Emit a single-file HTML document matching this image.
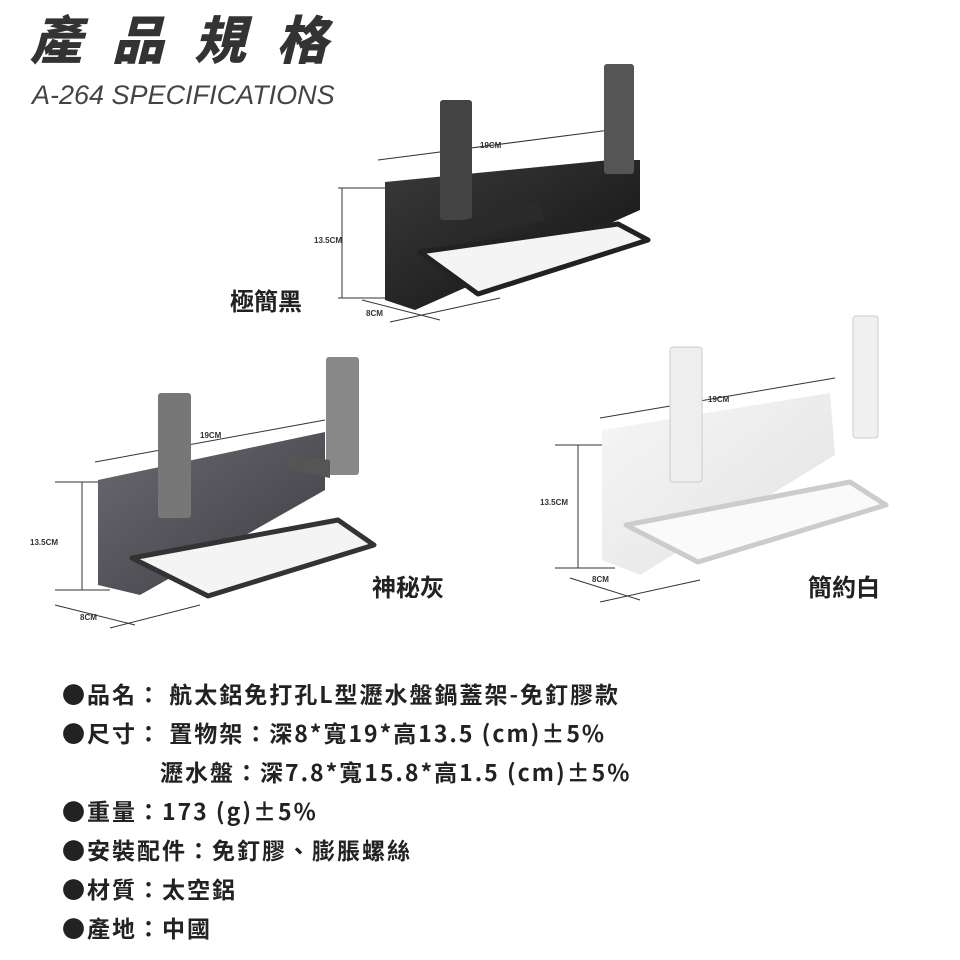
<!DOCTYPE html>
<html><head><meta charset="utf-8"><style>
body{margin:0;width:960px;height:960px;background:#fff;position:relative;overflow:hidden;font-family:"Liberation Sans","Noto Sans CJK TC",sans-serif;}
.t{position:absolute;white-space:nowrap;}
.spec{position:absolute;left:62px;font-size:23px;font-weight:bold;color:#222;white-space:nowrap;letter-spacing:2px;font-family:"Noto Sans CJK TC",sans-serif;line-height:30px;}
</style></head><body>
<div class="t" style="left:30px;top:2px;font-size:52px;font-weight:900;font-style:italic;color:#333;letter-spacing:30px;font-family:'Noto Sans CJK TC',sans-serif;line-height:70px;">產品規格</div>
<div class="t" style="left:32px;top:80px;font-size:27px;font-style:italic;color:#444;">A-264 SPECIFICATIONS</div>

<svg width="960" height="660" style="position:absolute;left:0;top:0" xmlns="http://www.w3.org/2000/svg">
<defs>
<linearGradient id="bk" x1="0" y1="0" x2="1" y2="1"><stop offset="0" stop-color="#3a3a3a"/><stop offset="1" stop-color="#111"/></linearGradient>
<linearGradient id="gy" x1="0" y1="0" x2="1" y2="1"><stop offset="0" stop-color="#6a6a70"/><stop offset="1" stop-color="#3c3c42"/></linearGradient>
<linearGradient id="wh" x1="0" y1="0" x2="1" y2="1"><stop offset="0" stop-color="#f6f6f6"/><stop offset="1" stop-color="#e2e2e2"/></linearGradient>
</defs>
<g stroke="#333" stroke-width="1" fill="none">
<line x1="378" y1="160" x2="610" y2="130"/><line x1="338" y1="188" x2="385" y2="188"/><line x1="338" y1="298" x2="390" y2="298"/>
<line x1="342" y1="188" x2="342" y2="298"/><line x1="362" y1="300" x2="440" y2="320"/><line x1="390" y1="322" x2="500" y2="298"/>
<line x1="95" y1="462" x2="325" y2="420"/><line x1="55" y1="482" x2="100" y2="482"/><line x1="55" y1="590" x2="110" y2="590"/>
<line x1="82" y1="482" x2="82" y2="590"/><line x1="55" y1="605" x2="135" y2="625"/><line x1="110" y1="628" x2="200" y2="605"/>
<line x1="600" y1="418" x2="835" y2="378"/><line x1="555" y1="445" x2="605" y2="445"/><line x1="555" y1="568" x2="615" y2="568"/>
<line x1="578" y1="445" x2="578" y2="568"/><line x1="570" y1="578" x2="640" y2="600"/><line x1="600" y1="602" x2="700" y2="580"/>
</g>
<g font-family="Liberation Sans" font-weight="bold" font-size="8" fill="#333">
<text x="480" y="148">19CM</text><text x="314" y="243">13.5CM</text><text x="366" y="316">8CM</text>
<text x="200" y="438">19CM</text><text x="30" y="545">13.5CM</text><text x="80" y="620">8CM</text>
<text x="708" y="402">19CM</text><text x="540" y="505">13.5CM</text><text x="592" y="582">8CM</text>
</g>
<polygon points="385,182 610,160 640,160 640,210 415,310 385,300" fill="url(#bk)"/>
<rect x="440" y="100" width="32" height="120" rx="3" fill="#444"/>
<rect x="604" y="64" width="30" height="110" rx="3" fill="#555"/>
<polygon points="455,222 540,202 545,220 460,240" fill="#2a2a2a"/>
<polygon points="420,252 618,224 648,240 478,294" fill="#f4f4f4" stroke="#222" stroke-width="5" stroke-linejoin="round"/>
<polygon points="98,480 325,432 325,490 140,595 98,585" fill="url(#gy)"/>
<rect x="158" y="393" width="33" height="125" rx="3" fill="#777"/>
<rect x="326" y="357" width="33" height="118" rx="3" fill="#888"/>
<polygon points="285,455 330,460 330,478 290,470" fill="#555"/>
<polygon points="132,558 338,520 374,545 208,596" fill="#f4f4f4" stroke="#333" stroke-width="5" stroke-linejoin="round"/>
<polygon points="602,430 830,393 835,455 640,575 602,560" fill="url(#wh)"/>
<rect x="670" y="347" width="32" height="135" rx="3" fill="#eee" stroke="#ccc"/>
<rect x="853" y="316" width="25" height="122" rx="3" fill="#f0f0f0" stroke="#ccc"/>
<polygon points="626,525 850,482 886,505 698,562" fill="#fafafa" stroke="#ccc" stroke-width="5" stroke-linejoin="round"/>
</svg>
<div class="t" style="left:230px;top:282px;font-size:24px;font-weight:bold;color:#222;font-family:'Noto Sans CJK TC',sans-serif;">極簡黑</div>
<div class="t" style="left:372px;top:568px;font-size:24px;font-weight:bold;color:#222;font-family:'Noto Sans CJK TC',sans-serif;">神秘灰</div>
<div class="t" style="left:808px;top:568px;font-size:24px;font-weight:bold;color:#222;font-family:'Noto Sans CJK TC',sans-serif;">簡約白</div>

<div class="spec" style="top:678px">●品名： 航太鋁免打孔L型瀝水盤鍋蓋架-免釘膠款</div>
<div class="spec" style="top:717px">●尺寸： 置物架：深8*寬19*高13.5 (cm)±5%</div>
<div class="spec" style="top:756px;left:160px">瀝水盤：深7.8*寬15.8*高1.5 (cm)±5%</div>
<div class="spec" style="top:795px">●重量：173 (g)±5%</div>
<div class="spec" style="top:834px">●安裝配件：免釘膠、膨脹螺絲</div>
<div class="spec" style="top:873px">●材質：太空鋁</div>
<div class="spec" style="top:912px">●產地：中國</div>
</body></html>
